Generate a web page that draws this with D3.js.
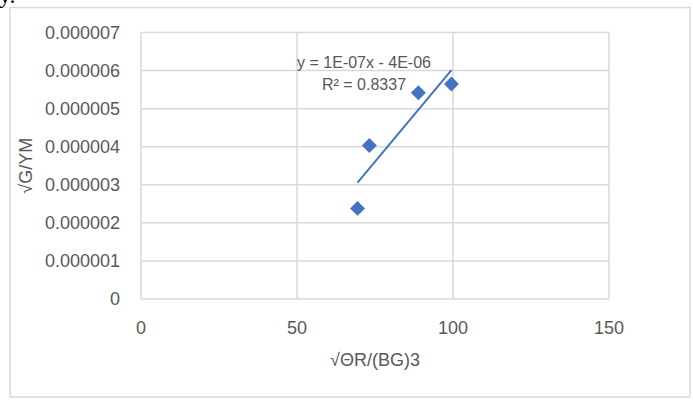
<!DOCTYPE html>
<html><head><meta charset="utf-8">
<script src="https://cdn.jsdelivr.net/npm/d3@7"></script>
<style>body{margin:0;background:#fff;overflow:hidden}</style>
</head><body>
<svg id="c" width="693" height="400"></svg>
<script>
const xValues = [69.4, 73.2, 88.9, 99.5];
const yValues = [0.00000238, 0.00000403, 0.00000542, 0.00000565];
const xTicks = [0, 50, 100, 150];
const yTicks = [0, 0.000001, 0.000002, 0.000003, 0.000004, 0.000005, 0.000006, 0.000007];
const yTickLabels = ["0", "0.000001", "0.000002", "0.000003", "0.000004", "0.000005", "0.000006", "0.000007"];
const xTitle = "√ΘR/(BG)3";
const yTitle = "√G/YM";
const equationLines = ["y = 1E-07x - 4E-06", "R² = 0.8337"];

const svg = d3.select("#c");
const font = "'Liberation Sans', Arial, sans-serif";
const grey = "#595959", gridC = "#d9d9d9", blue = "#4472C4";
const m = {l:141, r:609, t:32.5, b:299};

// fragment of text above the chart
svg.append("text").attr("x", -1).attr("y", 3).attr("font-family","'Liberation Serif', serif")
  .attr("font-size", 24).attr("fill","#000").text("y.");

// outer border
svg.append("rect").attr("x",10).attr("y",7.5).attr("width",680).attr("height",389.5)
  .attr("fill","none").attr("stroke",gridC).attr("stroke-width",1.5);

const x = d3.scaleLinear().domain([0,150]).range([m.l, m.r]);
const y = d3.scaleLinear().domain([0,0.000007]).range([m.b, m.t]);

const g = svg.append("g");
g.selectAll(".vg").data(xTicks).enter().append("line")
  .attr("x1", d=>x(d)).attr("x2", d=>x(d)).attr("y1", m.t).attr("y2", m.b)
  .attr("stroke", gridC).attr("stroke-width",1.5);
g.selectAll(".hg").data(yTicks).enter().append("line")
  .attr("x1", m.l).attr("x2", m.r).attr("y1", d=>y(d)).attr("y2", d=>y(d))
  .attr("stroke", gridC).attr("stroke-width",1.5);

g.selectAll(".yl").data(yTicks).enter().append("text")
  .attr("x", 120).attr("y", d=>y(d)).attr("dy","0.35em").attr("text-anchor","end")
  .attr("font-family", font).attr("font-size", 18).attr("fill", grey)
  .text((d,i)=>yTickLabels[i]);
g.selectAll(".xl").data(xTicks).enter().append("text")
  .attr("x", d=>x(d)).attr("y", 328).attr("dy","0.35em").attr("text-anchor","middle")
  .attr("font-family", font).attr("font-size", 18).attr("fill", grey)
  .text(d=>d);

svg.append("text").attr("x", (m.l+m.r)/2).attr("y", 360).attr("dy","0.35em").attr("text-anchor","middle")
  .attr("font-family", font).attr("font-size", 18).attr("fill", grey).text(xTitle);
svg.append("text").attr("transform", `translate(26,${(m.t+m.b)/2}) rotate(-90)`).attr("dy","0.35em")
  .attr("text-anchor","middle").attr("font-family", font).attr("font-size", 18).attr("fill", grey).text(yTitle);

// linear trendline (least squares over the points)
const n = xValues.length;
const mx = d3.mean(xValues), my = d3.mean(yValues);
let sxy=0, sxx=0;
for (let i=0;i<n;i++){ sxy += (xValues[i]-mx)*(yValues[i]-my); sxx += (xValues[i]-mx)**2; }
const slope = sxy/sxx, icpt = my - slope*mx;
const x0 = d3.min(xValues), x1 = d3.max(xValues);
svg.append("line").attr("x1", x(x0)).attr("y1", y(slope*x0+icpt))
  .attr("x2", x(x1)).attr("y2", y(slope*x1+icpt))
  .attr("stroke", blue).attr("stroke-width", 2);

const sym = d3.symbol(d3.symbolSquare, 112);
svg.selectAll(".pt").data(xValues).enter().append("path")
  .attr("d", sym).attr("fill", blue)
  .attr("transform", (d,i)=>`translate(${x(d)},${y(yValues[i])}) rotate(45)`);

const eq = svg.append("text").attr("font-family", font).attr("font-size", 16).attr("fill", grey)
  .attr("text-anchor","middle");
equationLines.forEach((t,i)=>{
  eq.append("tspan").attr("x", 364).attr("y", 62.5 + i*21.5).attr("dy","0.35em").text(t);
});
</script>
</body></html>
